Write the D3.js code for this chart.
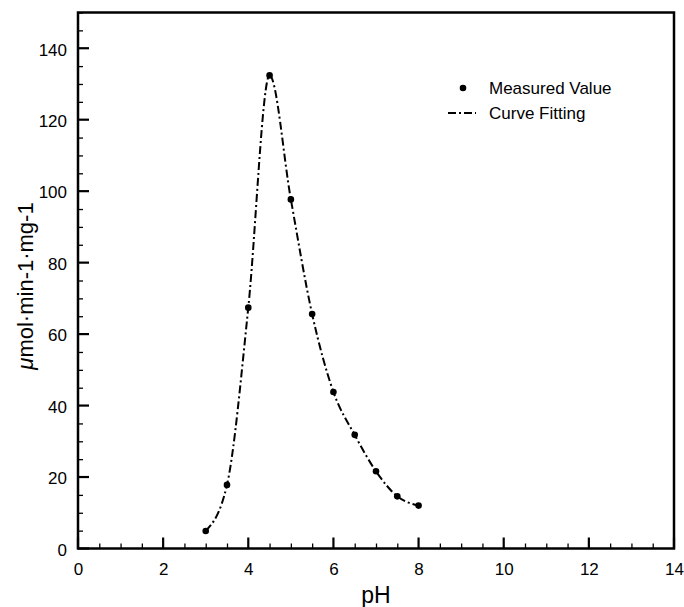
<!DOCTYPE html>
<html>
<head>
<meta charset="utf-8">
<script src="https://cdn.jsdelivr.net/npm/d3@7"></script>
<style>
  body { margin: 0; background: #fff; }
  svg text { font-family: "Liberation Sans", Arial, sans-serif; fill: #000; }
</style>
</head>
<body>
<div id="chart"></div>
<script>
const phValues = [3, 3.5, 4, 4.5, 5, 5.5, 6, 6.5, 7, 7.5, 8];
const activity = [4.9, 17.8, 67.4, 132.4, 97.7, 65.6, 43.8, 31.8, 21.6, 14.6, 12.0];
const xTicks = [0, 2, 4, 6, 8, 10, 12, 14];
const yTicks = [0, 20, 40, 60, 80, 100, 120, 140];
const legendLabels = ["Measured Value", "Curve Fitting"];

const width = 684, height = 607;
const margin = { top: 12.5, right: 10, bottom: 58.5, left: 78 };

const data = phValues.map((p, i) => ({ ph: p, value: activity[i] }));

const svg = d3.select("#chart").append("svg")
    .attr("width", width)
    .attr("height", height);

const x = d3.scaleLinear().domain([0, 14]).range([margin.left, width - margin.right]);
const y = d3.scaleLinear().domain([0, 150]).range([height - margin.bottom, margin.top]);

// minor ticks (inward)
const xMinor = d3.range(0, 14.01, 0.5).filter(d => d % 2 !== 0);
const yMinor = d3.range(0, 150.01, 5).filter(d => d % 20 !== 0);

svg.append("g")
    .attr("transform", `translate(0,${y(0)})`)
    .call(d3.axisTop(x).tickValues(xMinor).tickSize(5).tickFormat(""))
    .call(g => g.select(".domain").remove())
    .call(g => g.selectAll("line").attr("stroke-width", 1.3));

svg.append("g")
    .attr("transform", `translate(${x(0)},0)`)
    .call(d3.axisRight(y).tickValues(yMinor).tickSize(5).tickFormat(""))
    .call(g => g.select(".domain").remove())
    .call(g => g.selectAll("line").attr("stroke-width", 1.3));

// major ticks
const xAxis = svg.append("g")
    .attr("transform", `translate(0,${y(0)})`)
    .call(d3.axisBottom(x).tickValues(xTicks).tickSize(0).tickPadding(14))
    .call(g => g.select(".domain").remove());
xAxis.selectAll("text").attr("font-size", 17);
svg.append("g")
    .selectAll("line")
    .data(xTicks)
    .join("line")
    .attr("x1", d => x(d)).attr("x2", d => x(d))
    .attr("y1", y(0)).attr("y2", y(0) - 11)
    .attr("stroke", "#000").attr("stroke-width", 2.2);

const yAxis = svg.append("g")
    .attr("transform", `translate(${x(0)},0)`)
    .call(d3.axisLeft(y).tickValues(yTicks).tickSize(0).tickPadding(11))
    .call(g => g.select(".domain").remove());
yAxis.selectAll("text").attr("font-size", 17).attr("dy", "0.4em");
svg.append("g")
    .selectAll("line")
    .data(yTicks)
    .join("line")
    .attr("x1", x(0)).attr("x2", x(0) + 11)
    .attr("y1", d => y(d)).attr("y2", d => y(d))
    .attr("stroke", "#000").attr("stroke-width", 2.2);

// frame
svg.append("rect")
    .attr("x", x(0)).attr("y", y(150))
    .attr("width", x(14) - x(0))
    .attr("height", y(0) - y(150))
    .attr("fill", "none")
    .attr("stroke", "#000")
    .attr("stroke-width", 2.5);

// fitted curve
const line = d3.line()
    .x(d => x(d.ph))
    .y(d => y(d.value))
    .curve(d3.curveMonotoneX);

svg.append("path")
    .datum(data)
    .attr("d", line)
    .attr("fill", "none")
    .attr("stroke", "#000")
    .attr("stroke-width", 2)
    .attr("stroke-dasharray", "8,3,2,3");

// measured points
svg.selectAll("circle.measured")
    .data(data)
    .join("circle")
    .attr("class", "measured")
    .attr("cx", d => x(d.ph))
    .attr("cy", d => y(d.value))
    .attr("r", 3.3)
    .attr("fill", "#000");

// axis titles
svg.append("text")
    .attr("x", (x(0) + x(14)) / 2)
    .attr("y", 603)
    .attr("text-anchor", "middle")
    .attr("font-size", 23)
    .text("pH");

const yTitle = svg.append("text")
    .attr("transform", `translate(33,286) rotate(-90)`)
    .attr("text-anchor", "middle")
    .attr("font-size", 22);
yTitle.append("tspan").attr("font-style", "italic").text("μ");
yTitle.append("tspan").text("mol·min-1·mg-1");

// legend
const legend = svg.append("g").attr("transform", "translate(448,88)");
legend.append("circle").attr("cx", 15).attr("cy", 0).attr("r", 3.3).attr("fill", "#000");
legend.append("line")
    .attr("x1", 0).attr("x2", 28).attr("y1", 25).attr("y2", 25)
    .attr("stroke", "#000").attr("stroke-width", 2)
    .attr("stroke-dasharray", "8,3,2,3");
legend.selectAll("text.lbl")
    .data(legendLabels)
    .join("text")
    .attr("class", "lbl")
    .attr("x", 41)
    .attr("y", (d, i) => i * 25)
    .attr("dy", "0.35em")
    .attr("font-size", 17)
    .text(d => d);
</script>
</body>
</html>
